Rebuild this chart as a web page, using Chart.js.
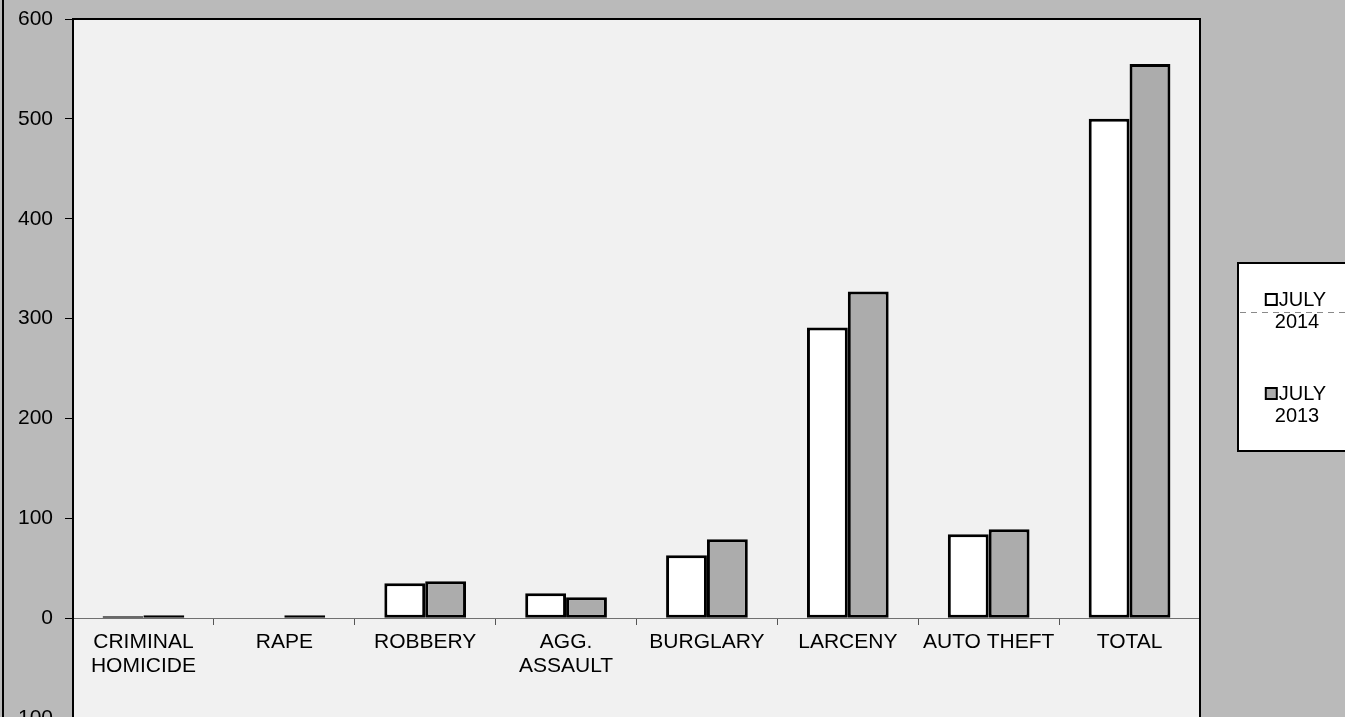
<!DOCTYPE html>
<html><head><meta charset="utf-8">
<script src="https://cdn.jsdelivr.net/npm/chart.js@4.4.1/dist/chart.umd.min.js"></script>
<style>
html,body{margin:0;padding:0;overflow:hidden;background:#bababa;width:1345px;height:717px;}
#wrap{position:absolute;left:0;top:0;width:1345px;height:760px;}
</style></head><body>
<div id="wrap"><canvas id="c" width="1345" height="760"></canvas></div>
<script>
// ---- data ----
const categories = [['CRIMINAL','HOMICIDE'],'RAPE','ROBBERY',['AGG.','ASSAULT'],'BURGLARY','LARCENY','AUTO THEFT','TOTAL'];
const seriesNames = [['JULY','2014'],['JULY','2013']];
const july2014 = [2, 0, 35, 25, 63, 291, 84, 500];
const july2013 = [3, 3, 37, 21, 79, 327, 89, 555];
const yMin = -100, yMax = 600, yStep = 100;

// ---- styles ----
const FONT = '"Liberation Sans", Arial, sans-serif';
const BG = '#bababa';
const PLOT_BG = '#f1f1f1';
const BAR2013 = '#acacac';

const framePlugin = {
  id: 'frame',
  beforeDraw(chart) {
    const {ctx, chartArea: a, width, height} = chart;
    ctx.save();
    ctx.fillStyle = BG;
    ctx.fillRect(0, 0, width, height);
    ctx.fillStyle = PLOT_BG;
    ctx.fillRect(a.left, a.top, a.right - a.left, a.bottom - a.top);
    ctx.restore();
  },
  afterDraw(chart) {
    const {ctx, chartArea: a, width, height} = chart;
    ctx.save();
    // plot border
    ctx.strokeStyle = '#000';
    ctx.lineWidth = 2;
    ctx.strokeRect(a.left, a.top, a.right - a.left, a.bottom - a.top);
    // outer left line
    ctx.beginPath(); ctx.moveTo(3, 0); ctx.lineTo(3, height); ctx.stroke();

    // legend box
    const bx = a.right + 38, by = 263, bw = 200, bh = 188;
    ctx.fillStyle = '#ffffff';
    ctx.fillRect(bx, by, bw, bh);
    ctx.strokeStyle = '#000';
    ctx.lineWidth = 2;
    ctx.strokeRect(bx, by, bw, bh);

    // faint dashed artefact line
    ctx.strokeStyle = '#8a8a8a';
    ctx.lineWidth = 1;
    ctx.setLineDash([6, 5]);
    ctx.beginPath(); ctx.moveTo(bx + 2, by + 49.5); ctx.lineTo(width, by + 49.5); ctx.stroke();
    ctx.setLineDash([]);

    const ds = chart.data.datasets;
    ctx.font = '20px ' + FONT;
    ctx.fillStyle = '#000';
    ctx.textBaseline = 'alphabetic';
    const cx = bx + 58;
    const baseY = [by + 43, by + 137];
    ds.forEach((d, i) => {
      const lines = seriesNames[i];
      const w1 = ctx.measureText(lines[0]).width;
      const sq = 11, gap = 2;
      const total = sq + gap + w1;
      const x0 = cx - total / 2;
      const y1 = baseY[i];
      ctx.fillStyle = d.backgroundColor;
      ctx.fillRect(x0, y1 - 12, sq, sq);
      ctx.strokeStyle = '#000';
      ctx.lineWidth = 2;
      ctx.strokeRect(x0, y1 - 12, sq, sq);
      ctx.fillStyle = '#000';
      ctx.textAlign = 'left';
      ctx.fillText(lines[0], x0 + sq + gap, y1);
      ctx.textAlign = 'center';
      ctx.fillText(lines[1], cx + 1, y1 + 22);
    });
    ctx.restore();
  }
};

new Chart(document.getElementById('c'), {
  type: 'bar',
  data: {
    labels: categories,
    datasets: [
      {label: 'JULY 2014', data: july2014, backgroundColor: '#ffffff', borderColor: '#000000',
       borderWidth: 3, borderSkipped: false, categoryPercentage: 0.58, barPercentage: 1},
      {label: 'JULY 2013', data: july2013, backgroundColor: BAR2013, borderColor: '#000000',
       borderWidth: 3, borderSkipped: false, categoryPercentage: 0.58, barPercentage: 1}
    ]
  },
  options: {
    responsive: false,
    animation: false,
    events: [],
    layout: {padding: {top: 19, left: 0, right: 145, bottom: 42}},
    plugins: {legend: {display: false}, tooltip: {enabled: false}},
    scales: {
      x: {
        position: {y: 0},
        offset: true,
        grid: {offset: true, drawOnChartArea: false, drawTicks: true, tickLength: 6, color: '#555', lineWidth: 1},
        border: {display: true, color: '#707070', width: 1},
        ticks: {color: '#000', font: {family: FONT, size: 21, lineHeight: 1.1}, padding: 7, autoSkip: false, maxRotation: 0, minRotation: 0},
        afterFit(s) { s.height = 0; }
      },
      y: {
        min: yMin, max: yMax,
        ticks: {stepSize: yStep, color: '#000', font: {family: FONT, size: 21}, padding: 12},
        grid: {drawOnChartArea: false, drawTicks: true, tickLength: 8, color: '#000', lineWidth: 1},
        border: {display: true, color: '#000', width: 2},
        afterFit(s) { s.width = 73; s.paddingTop = 0; s.paddingBottom = 0; }
      }
    }
  },
  plugins: [framePlugin]
});
</script>
</body></html>
